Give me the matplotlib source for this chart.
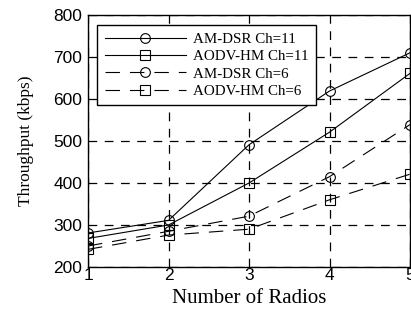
import matplotlib.pyplot as plt

radios = [1, 2, 3, 4, 5]
amdsr_ch11 = [281, 311, 491, 619, 710]
aodvhm_ch11 = [268, 300, 400, 521, 661]
amdsr_ch6 = [250, 285, 321, 415, 539]
aodvhm_ch6 = [242, 276, 290, 360, 421]

fig = plt.figure(figsize=(4.11, 3.12), dpi=100)
ax = fig.add_axes([88 / 411, 45 / 312, 322 / 411, 252 / 312])

mk = dict(color='black', lw=0.8, markersize=7, markerfacecolor='none', markeredgewidth=0.8)
dash = (0, (13, 9))
ax.plot(radios, amdsr_ch11, marker='o', ls='-', label='AM-DSR Ch=11', **mk)
ax.plot(radios, aodvhm_ch11, marker='s', ls='-', label='AODV-HM Ch=11', **mk)
ax.plot(radios, amdsr_ch6, marker='o', ls=dash, label='AM-DSR Ch=6', **mk)
ax.plot(radios, aodvhm_ch6, marker='s', ls=dash, label='AODV-HM Ch=6', **mk)

ax.set_xlim(1, 5)
ax.set_ylim(200, 800)
ax.set_xticks(radios)
ax.set_yticks([200, 300, 400, 500, 600, 700, 800])
ax.grid(True, color='black', ls=(0, (7, 6)), lw=0.9)
for s in ax.spines.values():
    s.set_linewidth(1.0)
ax.tick_params(direction='in', length=0, labelsize=12.5, pad=4)
ax.tick_params(axis='x', pad=1)
for lab in ax.get_xticklabels() + ax.get_yticklabels():
    lab.set_family('Liberation Sans')

ax.set_xlabel('Number of Radios', family='Liberation Serif', fontsize=15, labelpad=4)
ax.set_ylabel('Throughput (kbps)', family='Liberation Serif', fontsize=12.5, labelpad=14)

leg = ax.legend(loc='upper left', bbox_to_anchor=(0.028, 0.96), borderaxespad=0,
                fancybox=False, edgecolor='black', framealpha=1, handlelength=5.4,
                handletextpad=0.5, prop={'family': 'Liberation Serif', 'size': 10.8},
                borderpad=0.5, labelspacing=0.25)
leg.get_frame().set_linewidth(1.0)

fig.savefig('out.png', dpi=100)
